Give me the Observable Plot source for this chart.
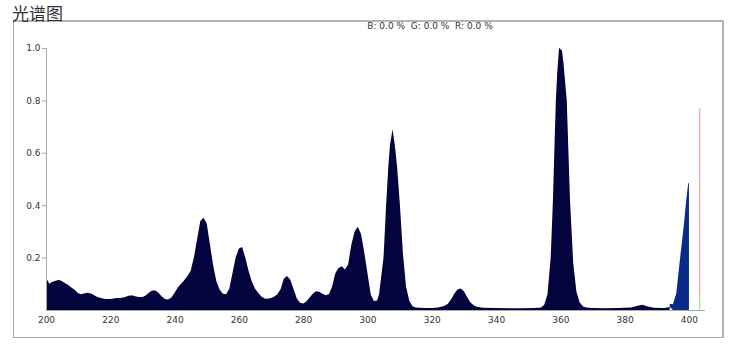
<!DOCTYPE html>
<html>
<head>
<meta charset="utf-8">
<script src="https://cdn.jsdelivr.net/npm/d3@7"></script>
<script src="https://cdn.jsdelivr.net/npm/@observablehq/plot@0.6"></script>
<style>
  body { margin: 0; background: #fff; }
  #wrap { position: relative; width: 756px; height: 357px; overflow: hidden; }
  #title { position: absolute; left: 12px; top: 0px; font-family: "Noto Sans CJK SC", sans-serif; font-size: 17px; color: #333; line-height: normal; z-index: 2; }
  #box { position: absolute; left: 13px; top: 20px; width: 708px; height: 315px; border: 1px solid #a9a9a9; border-top: 2px solid #b5b5b5; border-right: 2px solid #b5b5b5; }
  #sub { position: absolute; left: 0; top: 21px; width: 860px; text-align: center; font-family: "DejaVu Sans", sans-serif; font-size: 9px; color: #333; white-space: pre; }
  #chart { position: absolute; left: 0; top: 0; }
</style>
</head>
<body>
<div id="wrap">
  <div id="box"></div>
  <div id="chart"></div>
  <div id="title">光谱图</div>
  <div id="sub"></div>
</div>
<script>
// ---- data ----
const wavelengths = [200,200.5,201,202,203,204,205,206,207,208,209,210,211,212,213,214,215,216,217,218,219,220,221,222,223,224,225,226,227,228,229,230,231,232,233,234,235,236,237,238,239,240,241,242,243,244,245,246,247,248,249,250,251,252,253,254,255,256,257,258,259,260,261,262,263,264,265,266,267,268,269,270,271,272,273,274,275,276,277,278,279,280,281,282,283,284,285,286,287,288,289,290,291,292,293,294,295,296,297,298,299,300,301,302,303,303.6,305,305.8,306.5,307,307.8,308.5,309.2,310.1,311,312,313,314,315,316,318,320,322,324,325,326,327,328,329,330,331,332,333,334,336,340,344,348,352,354,355,356,357,357.7,358,358.6,359,359.6,360.5,361,362,363,364,365,366,367,368,370,374,378,382,384,385.5,387,389,392,393.5,394,395,396,396.2,397,398,398.5,399,399.5,399.8,400];
const intensities = [0.112,0.114,0.100,0.108,0.112,0.115,0.110,0.102,0.094,0.085,0.076,0.064,0.060,0.064,0.066,0.063,0.056,0.050,0.046,0.043,0.042,0.042,0.044,0.046,0.046,0.048,0.052,0.055,0.055,0.052,0.050,0.050,0.055,0.066,0.074,0.074,0.066,0.052,0.042,0.040,0.048,0.066,0.086,0.100,0.114,0.130,0.150,0.200,0.270,0.340,0.352,0.330,0.250,0.170,0.110,0.078,0.062,0.060,0.080,0.140,0.200,0.235,0.240,0.200,0.150,0.110,0.082,0.066,0.052,0.044,0.043,0.046,0.052,0.060,0.080,0.120,0.130,0.115,0.080,0.045,0.028,0.025,0.032,0.048,0.062,0.072,0.070,0.062,0.056,0.060,0.090,0.140,0.160,0.167,0.155,0.175,0.250,0.300,0.318,0.290,0.220,0.140,0.060,0.034,0.036,0.060,0.200,0.400,0.550,0.630,0.690,0.630,0.550,0.400,0.220,0.090,0.035,0.014,0.010,0.009,0.008,0.008,0.010,0.016,0.024,0.040,0.062,0.078,0.082,0.072,0.050,0.030,0.018,0.012,0.009,0.008,0.007,0.007,0.008,0.010,0.020,0.060,0.200,0.420,0.550,0.800,0.900,1.000,0.990,0.940,0.800,0.420,0.180,0.070,0.030,0.014,0.010,0.008,0.007,0.008,0.010,0.016,0.020,0.014,0.009,0.008,0.010,0.012,0.022,0.060,0.078,0.170,0.280,0.333,0.400,0.455,0.485,0.485];
const blueStart = 394;              // wavelength where the fill turns blue
const xTicks = [200,220,240,260,280,300,320,340,360,380,400];
const yTicks = [0.2,0.4,0.6,0.8,1.0];
const markerWavelength = 403.2;
const markerRed = [0.053, 0.77];
const markerGreen = [0, 0.053];
const channelText = "B: 0.0 %  G: 0.0 %  R: 0.0 %";

// ---- build ----
const rows = [];
wavelengths.forEach((w, i) => {
  if (w <= blueStart) rows.push({w, v: intensities[i], seg: "navy"});
  if (w >= blueStart) rows.push({w, v: intensities[i], seg: "blue"});
});

document.getElementById("sub").textContent = channelText;

const chart = Plot.plot({
  width: 756,
  height: 357,
  marginLeft: 46,
  marginRight: 51,
  marginTop: 48,
  marginBottom: 47,
  style: {fontFamily: "DejaVu Sans, sans-serif", fontSize: "9px", background: "transparent", color: "#333"},
  x: {domain: [200, 405]},
  y: {domain: [0, 1]},
  marks: [
    Plot.areaY(rows, {x: "w", y: "v", z: "seg", fill: d => d.seg === "navy" ? "#03033d" : "#0a2a88", curve: "linear"}),
    Plot.ruleY([0], {x1: 200, x2: 405, stroke: "#aaa"}),
    Plot.ruleX([200], {y1: 0, y2: 1, stroke: "#aaa"}),
    Plot.ruleX([markerWavelength], {y1: markerRed[0], y2: markerRed[1], stroke: "#ff9c9c", strokeWidth: 1.2}),
    Plot.ruleX([markerWavelength], {y1: markerGreen[0], y2: markerGreen[1], stroke: "#9be38a", strokeWidth: 1.2}),
    Plot.axisY(yTicks, {tickSize: 4, tickPadding: 2, tickFormat: d3.format(".1f"), stroke: "#aaa", fill: "#333", label: null}),
    Plot.axisX(xTicks, {tickSize: 0, tickPadding: 6, tickFormat: d => String(d), fill: "#333", label: null})
  ]
});
document.getElementById("chart").appendChild(chart);
</script>
</body>
</html>
